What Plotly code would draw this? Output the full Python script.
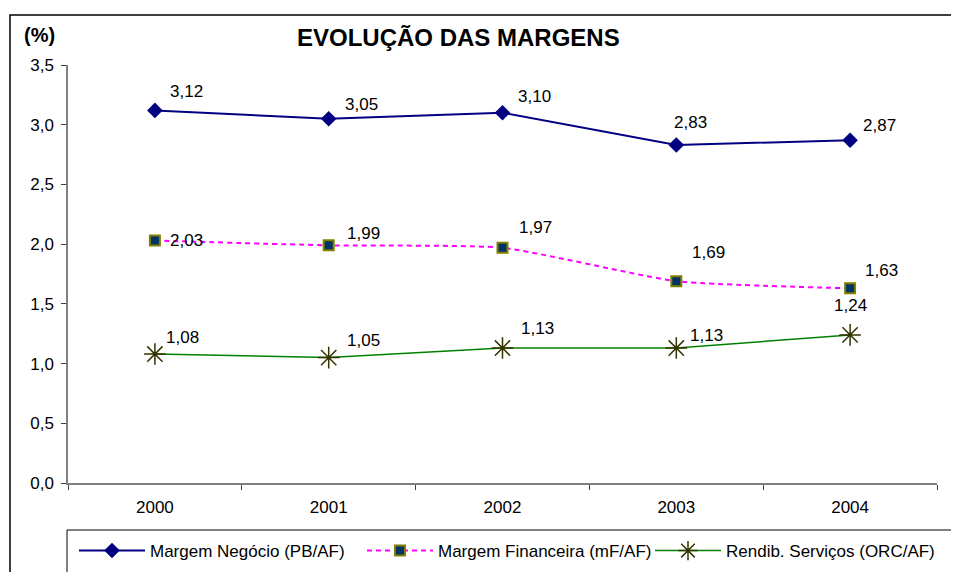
import plotly.graph_objects as go

years = ["2000", "2001", "2002", "2003", "2004"]
negocio = [3.12, 3.05, 3.10, 2.83, 2.87]
financeira = [2.03, 1.99, 1.97, 1.69, 1.63]
servicos = [1.08, 1.05, 1.13, 1.13, 1.24]

names = ["Margem Negócio (PB/AF)", "Margem Financeira (mF/AF)", "Rendib. Serviços (ORC/AF)"]
y_ticks = [0.0, 0.5, 1.0, 1.5, 2.0, 2.5, 3.0, 3.5]

# label offsets in pixels (dx, dy) – style only
off_neg = [(32, 19), (33, 14), (32, 16), (14, 23), (29, 15)]
off_fin = [(32, 0), (35, 12), (33, 20), (32, 29), (31, 18)]
off_ser = [(28, 17), (35, 17), (35, 20), (30, 13), (0, 29)]

FONT = "Liberation Sans, Arial, sans-serif"

fig = go.Figure()
fig.add_trace(go.Scatter(
    x=years, y=negocio, name=names[0], mode="lines+markers",
    line=dict(color="#000080", width=2),
    marker=dict(symbol="diamond", size=12, color="#000080"),
))
fig.add_trace(go.Scatter(
    x=years, y=financeira, name=names[1], mode="lines+markers",
    line=dict(color="#FF00FF", width=2, dash="5px,4px", shape="spline", smoothing=0.5),
    marker=dict(symbol="square", size=10, color="#003366", line=dict(color="#808000", width=2)),
))
fig.add_trace(go.Scatter(
    x=years, y=servicos, name=names[2], mode="lines+markers",
    line=dict(color="#008000", width=1.5),
    marker=dict(symbol="asterisk-open", size=18, color="#333300", line=dict(color="#333300", width=1.5)),
))

annotations = []
for vals, offs in ((negocio, off_neg), (financeira, off_fin), (servicos, off_ser)):
    for i, (v, (dx, dy)) in enumerate(zip(vals, offs)):
        annotations.append(dict(
            x=i, y=v, xref="x", yref="y", text=f"{v:.2f}".replace(".", ","),
            showarrow=False, xshift=dx, yshift=dy,
            font=dict(family=FONT, size=17, color="black"),
        ))

# page offset (browser default body margin)
O = 8
W, H = 959 - O, 572 - O
L, R, T, B = 68 - O, 22, 65 - O, 89
pw, ph = W - L - R, H - T - B

def px_x(p):  # page px -> paper x
    return (p - O - L) / pw

def px_y(p):  # page px -> paper y
    return (H - B - (p - O)) / ph

annotations.append(dict(
    x=px_x(458), y=px_y(38), xref="paper", yref="paper", text="<b>EVOLUÇÃO DAS MARGENS</b>",
    xanchor="center", yanchor="middle",
    showarrow=False, font=dict(family=FONT, size=24, color="black"),
))
annotations.append(dict(
    x=px_x(39), y=px_y(35), xref="paper", yref="paper", text="<b>(%)</b>",
    xanchor="center", yanchor="middle",
    showarrow=False, font=dict(family=FONT, size=20, color="black"),
))

shapes = [
    dict(type="rect", xref="paper", yref="paper",
         x0=px_x(10), x1=px_x(975), y0=px_y(15), y1=px_y(590),
         line=dict(color="black", width=1.5), fillcolor="rgba(0,0,0,0)", layer="below"),
    dict(type="rect", xref="paper", yref="paper",
         x0=px_x(67), x1=px_x(955), y0=px_y(530), y1=px_y(590),
         line=dict(color="black", width=1), fillcolor="rgba(0,0,0,0)", layer="below"),
]

fig.update_layout(
    width=W, height=H,
    margin=dict(l=L, r=R, t=T, b=B, autoexpand=False),
    paper_bgcolor="white", plot_bgcolor="white",
    separators=",.",
    showlegend=True,
    font=dict(family=FONT, size=17, color="black"),
    legend=dict(orientation="h", x=px_x(74), y=px_y(533), xanchor="left", yanchor="top",
                font=dict(family=FONT, size=17, color="black"),
                bgcolor="rgba(0,0,0,0)", borderwidth=0,
                entrywidth=207, entrywidthmode="pixels", itemwidth=66, tracegroupgap=0),
    annotations=annotations,
    shapes=shapes,
    xaxis=dict(
        type="category", range=[-0.5, 4.5], tickson="boundaries",
        ticks="outside", ticklen=5, tickcolor="#404040",
        showline=True, linecolor="#808080", linewidth=1.5,
        showgrid=False, zeroline=False, ticklabelstandoff=8,
        tickfont=dict(family=FONT, size=17, color="black"),
    ),
    yaxis=dict(
        range=[0, 3.5], tickvals=y_ticks, tickformat=".1f",
        ticks="outside", ticklen=5, tickcolor="#404040",
        showline=True, linecolor="#808080", linewidth=1.5,
        showgrid=False, zeroline=False, ticklabelstandoff=4,
        tickfont=dict(family=FONT, size=17, color="black"),
    ),
)

fig.write_html("out.html")
